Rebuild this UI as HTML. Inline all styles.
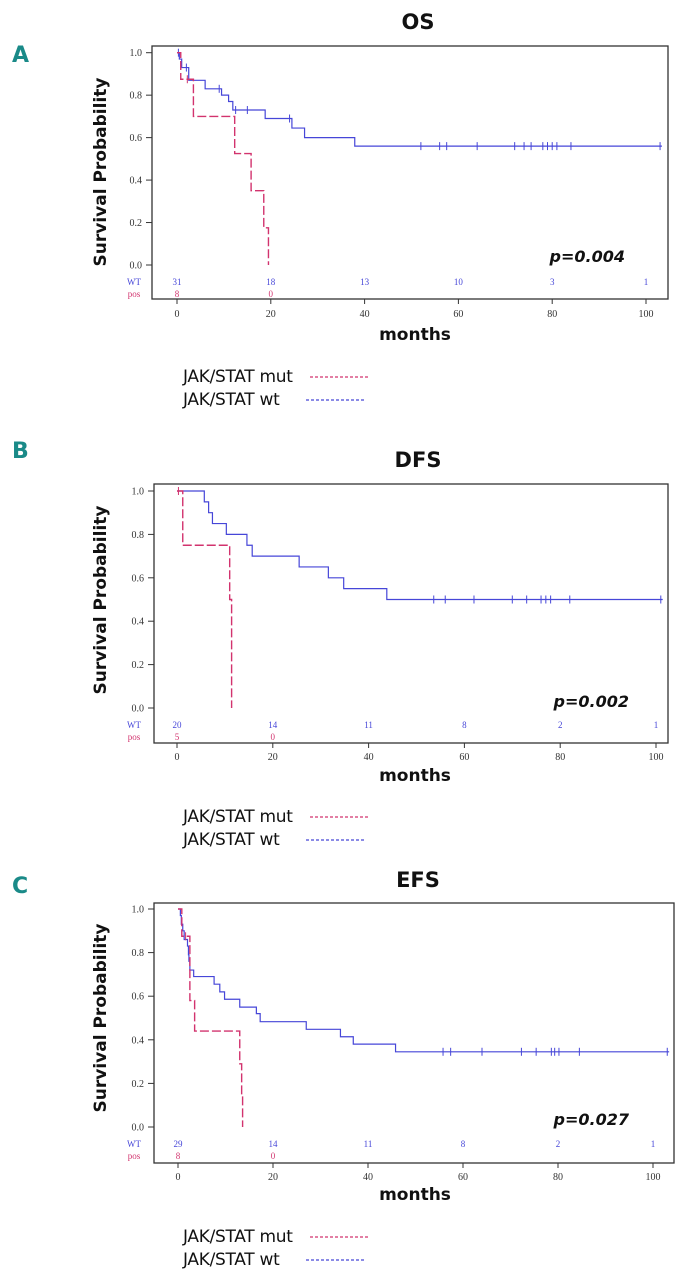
<!DOCTYPE html>
<html><head><meta charset="utf-8">
<style>
html,body{margin:0;padding:0;background:#fff;}
svg{display:block;}
.tick{font-family:"Liberation Serif",serif;font-size:10px;fill:#333;}
.ttl{font-family:"DejaVu Sans","Liberation Sans",sans-serif;font-weight:bold;font-size:21px;fill:#111;}
.ytl{font-family:"DejaVu Sans","Liberation Sans",sans-serif;font-weight:bold;font-size:17px;fill:#111;}
.mon{font-family:"DejaVu Sans","Liberation Sans",sans-serif;font-weight:bold;font-size:17px;fill:#111;}
.leg{font-family:"DejaVu Sans","Liberation Sans",sans-serif;font-size:17px;fill:#111;letter-spacing:-0.3px;}
.pv{font-family:"DejaVu Sans","Liberation Sans",sans-serif;font-weight:bold;font-style:italic;font-size:16px;fill:#111;}
.let{font-family:"DejaVu Sans","Liberation Sans",sans-serif;font-weight:bold;font-size:22px;fill:#1a8a88;}
.risk{font-family:"Liberation Serif",serif;font-size:9px;}
</style></head>
<body>
<svg id="fig" width="678" height="1280" viewBox="0 0 678 1280" xmlns="http://www.w3.org/2000/svg"></svg>
<script>
// ---- Data ----
var xTicks = [0,20,40,60,80,100];
var yTicks = [0.0,0.2,0.4,0.6,0.8,1.0];
var panelTitles = ["OS","DFS","EFS"];
var panelLetters = ["A","B","C"];
var pValues = ["p=0.004","p=0.002","p=0.027"];

var osWtT = [0,0.5,1,2.5,6,9.5,11,11.9,18.8,24.5,27.2,37.9,103.4];
var osWtS = [1.0,0.97,0.93,0.87,0.83,0.80,0.77,0.73,0.69,0.645,0.60,0.56,0.56];
var osWtCens = [0.3,2,9,12.5,15,24,52,56,57.5,64,72,74,75.5,78,79,80,81,84,103];
var osMutT = [0,0.8,3.5,12.3,15.8,18.5,19.5];
var osMutS = [1.0,0.875,0.70,0.525,0.35,0.175,0.0];
var osMutCens = [2.2];
var osWtRisk = ["31","18","13","10","3","1"];
var osMutRisk = ["8","0"];

var dfsWtT = [0,5.7,6.6,7.4,10.3,14.6,15.7,25.5,31.6,34.8,43.8,101.4];
var dfsWtS = [1.0,0.95,0.90,0.85,0.80,0.75,0.70,0.65,0.60,0.55,0.50,0.50];
var dfsWtCens = [53.6,56,62,70,73,76,77,78,82,101];
var dfsMutT = [0,1.2,11.0,11.4];
var dfsMutS = [1.0,0.75,0.50,0.0];
var dfsMutCens = [0.3];
var dfsWtRisk = ["20","14","11","8","2","1"];
var dfsMutRisk = ["5","0"];

var efsWtT = [0,0.5,0.7,1.0,1.3,2.0,2.2,2.3,2.5,3.3,7.6,8.8,9.8,13,16.5,17.3,27,34.2,36.9,45.8,103.4];
var efsWtS = [1.0,0.97,0.93,0.90,0.86,0.83,0.79,0.76,0.72,0.69,0.655,0.62,0.586,0.55,0.52,0.483,0.448,0.414,0.38,0.345,0.345];
var efsWtCens = [55.8,57.4,64,72.3,75.4,78.6,79.3,80.2,84.5,103];
var efsMutT = [0,0.8,2.5,3.5,13.0,13.4,13.6];
var efsMutS = [1.0,0.875,0.58,0.44,0.29,0.145,0.0];
var efsMutCens = [1.6];
var efsWtRisk = ["29","14","11","8","2","1"];
var efsMutRisk = ["8","0"];

// ---- Drawing ----
var NS="http://www.w3.org/2000/svg";
var svg=document.getElementById('fig');
function mk(tag,attrs,parent,text){var e=document.createElementNS(NS,tag);for(var k in attrs)e.setAttribute(k,attrs[k]);if(text!==undefined)e.textContent=text;(parent||svg).appendChild(e);return e;}

var geoms=[
 {bx0:152,by0:46,bx1:668,by1:299,x0:177,x100:646,y1:52.7,y0:265,wtY:285,posY:297,tickY:317,monY:340,titleY:29,legY:382,let:[12,62],pvX:625,pvY:262,yTitleY:172},
 {bx0:154,by0:484,bx1:668,by1:743,x0:177,x100:656,y1:491,y0:708,wtY:728,posY:740,tickY:760,monY:781,titleY:467,legY:822,let:[12,458],pvX:629,pvY:707,yTitleY:600},
 {bx0:154,by0:903,bx1:674,by1:1163,x0:178,x100:653,y1:909,y0:1127,wtY:1147,posY:1159,tickY:1180,monY:1200,titleY:887,legY:1242,let:[12,893],pvX:629,pvY:1125,yTitleY:1018}
];
var series=[
 [osWtT,osWtS,osWtCens,osMutT,osMutS,osMutCens,osWtRisk,osMutRisk],
 [dfsWtT,dfsWtS,dfsWtCens,dfsMutT,dfsMutS,dfsMutCens,dfsWtRisk,dfsMutRisk],
 [efsWtT,efsWtS,efsWtCens,efsMutT,efsMutS,efsMutCens,efsWtRisk,efsMutRisk]
];
var BLUE="#4646d8", RED="#d2336e";

geoms.forEach(function(g,i){
  var grp=mk('g',{});
  
  
  function X(m){return g.x0+(g.x100-g.x0)*m/100;}
  function Y(s){return g.y0+(g.y1-g.y0)*s;}
  var L=mk('text',{x:g.let[0],y:g.let[1],'class':'let'},grp,panelLetters[i]);
  
  
  var T=mk('text',{x:418,y:g.titleY,'class':'ttl','text-anchor':'middle'},grp,panelTitles[i]);
  
  
  var box=mk('rect',{x:g.bx0,y:g.by0,width:g.bx1-g.bx0,height:g.by1-g.by0,fill:'none',stroke:'#333','stroke-width':1.3},grp);
  
  
  yTicks.forEach(function(v){
    var y=Y(v);
    mk('line',{x1:g.bx0-6,x2:g.bx0,y1:y,y2:y,stroke:'#333'},grp);
    var t=mk('text',{x:g.bx0-10,y:y+3.5,'class':'tick','text-anchor':'end'},grp,v.toFixed(1));
    
    
  });
  xTicks.forEach(function(v,k){
    var x=X(v);
    mk('line',{x1:x,x2:x,y1:g.by1,y2:g.by1+5,stroke:'#333'},grp);
    var t=mk('text',{x:x,y:g.tickY,'class':'tick','text-anchor':'middle'},grp,String(v));
    
    
  });
  var s=series[i];
  var w=mk('text',{x:134,y:g.wtY,'class':'risk','text-anchor':'middle',fill:BLUE},grp,'WT');
  
  
  var p=mk('text',{x:134,y:g.posY,'class':'risk','text-anchor':'middle',fill:RED},grp,'pos');
  
  
  s[6].forEach(function(n,k){var t=mk('text',{x:X(xTicks[k]),y:g.wtY,'class':'risk','text-anchor':'middle',fill:BLUE},grp,n);
    
    });
  s[7].forEach(function(n,k){var t=mk('text',{x:X(xTicks[k]),y:g.posY,'class':'risk','text-anchor':'middle',fill:RED},grp,n);
    
    });
  function stepPath(T,S){var d='M'+X(T[0])+','+Y(S[0]);for(var k=1;k<T.length;k++){d+=' H'+X(T[k])+' V'+Y(S[k]);}return d;}
  function survAt(T,S,t){var v=S[0];for(var k=0;k<T.length;k++){if(T[k]<=t)v=S[k];}return v;}
  var wt=mk('path',{d:stepPath(s[0],s[1]),fill:'none',stroke:BLUE,'stroke-width':1.2},grp);
  
  
  s[2].forEach(function(c){var y=Y(survAt(s[0],s[1],c));var m=mk('line',{x1:X(c),x2:X(c),y1:y-4,y2:y+4,stroke:BLUE,'stroke-width':1},grp);
    
    });
  var mu=mk('path',{d:stepPath(s[3],s[4]),fill:'none',stroke:RED,'stroke-width':1.4,'stroke-dasharray':'9,3'},grp);
  
  
  s[5].forEach(function(c){var y=Y(survAt(s[3],s[4],c));var m=mk('line',{x1:X(c),x2:X(c),y1:y-4,y2:y+4,stroke:RED,'stroke-width':1},grp);
    
    });
  var pv=mk('text',{x:g.pvX,y:g.pvY,'class':'pv','text-anchor':'end'},grp,pValues[i]);
  
  
  var yt=mk('text',{x:0,y:0,'class':'ytl','text-anchor':'middle',transform:'translate(106,'+g.yTitleY+') rotate(-90)'},grp,'Survival Probability');
  
  
  var mo=mk('text',{x:415,y:g.monY,'class':'mon','text-anchor':'middle'},grp,'months');
  
  
  var l1=mk('text',{x:183,y:g.legY,'class':'leg'},grp,'JAK/STAT mut');
  
  
  mk('line',{x1:310,x2:369,y1:g.legY-5,y2:g.legY-5,stroke:RED,'stroke-width':1.2,'stroke-dasharray':'3,2'},grp);
  var l2=mk('text',{x:183,y:g.legY+23,'class':'leg'},grp,'JAK/STAT wt');
  
  
  mk('line',{x1:306,x2:366,y1:g.legY+18,y2:g.legY+18,stroke:BLUE,'stroke-width':1.2,'stroke-dasharray':'3,2'},grp);
});
</script>
</body></html>
